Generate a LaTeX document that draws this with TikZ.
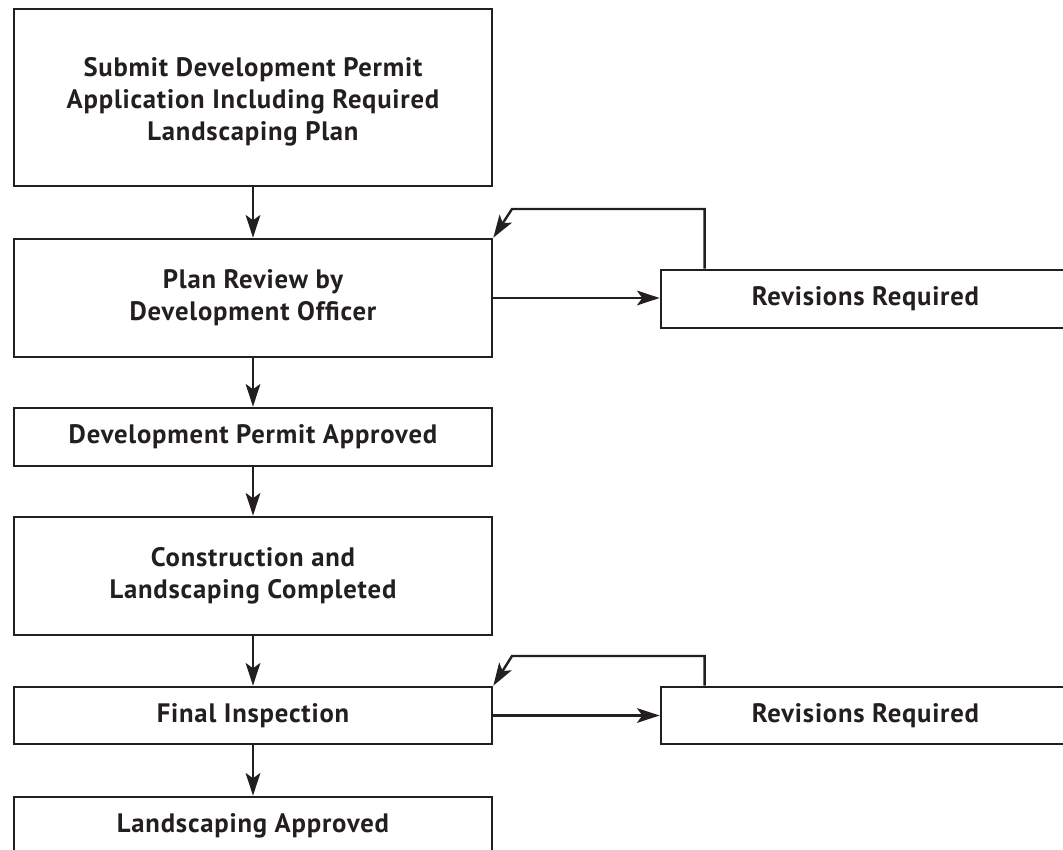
\documentclass[tikz,border=0pt]{standalone}
\usepackage{fontspec}
\setmainfont{PT Sans}[LetterSpace=3]
\usetikzlibrary{arrows.meta,calc}
\definecolor{ink}{HTML}{231F20}
\tikzset{
  txt/.style={align=center, inner sep=0pt, text=ink, font=\bfseries\fontsize{20}{24}\selectfont},
  box/.style 2 args={txt, draw=ink, line width=2pt, rectangle,
    minimum width=#1*0.75pt, minimum height=#2*0.75pt},
  conn/.style={draw=ink, line width=1.8pt, -{Stealth[length=17pt,width=11pt,inset=4pt]}}
}
\begin{document}
\begin{tikzpicture}[x=0.75pt,y=-0.75pt]
\clip (0,0) rectangle (1063,849);
\fill[white] (0,0) rectangle (1063,849);
\node[box={478}{177}] (b1) at (253,97.5) {};
\node[txt] (b1t) at ($(b1.center)+(0,4)$) {Submit Development Permit\\Application Including Required\\Landscaping Plan};
\node[box={478}{118}] (b2) at (253,298) {Plan Review by\\Development Officer};
\node[box={478}{58}] (b3) at (253,437) {Development Permit Approved};
\node[box={478}{118}] (b4) at (253,576) {Construction and\\Landscaping Completed};
\node[box={478}{57}] (b5) at (253,715.5) {Final Inspection};
\node[box={478}{57}] (b6) at (253,825.5) {Landscaping Approved};
\node[box={409}{58}] (r1) at (865.5,299) {Revisions Required};
\node[box={409}{57}] (r2) at (865.5,715.5) {Revisions Required};
\coordinate (k1) at (512,209);
\coordinate (k2) at (512,656);
\draw[conn] (b1.south) -- (b2.north);
\draw[conn] (b2.south) -- (b3.north);
\draw[conn] (b3.south) -- (b4.north);
\draw[conn] (b4.south) -- (b5.north);
\draw[conn] (b5.south) -- (b6.north);
\draw[conn] (b2.east) -- (b2.east -| r1.west);
\draw[conn] (b5.east) -- (b5.east -| r2.west);
\draw[conn] ($(r1.north west)+(45,0)$) |- (k1) -- (b2.north east);
\draw[conn] ($(r2.north west)+(45,0)$) |- (k2) -- (b5.north east);
\end{tikzpicture}
\end{document}
